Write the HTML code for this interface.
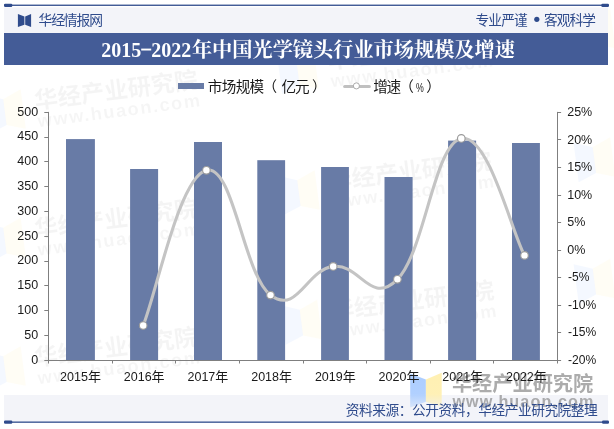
<!DOCTYPE html>
<html lang="zh"><head><meta charset="utf-8"><title>2015-2022年中国光学镜头行业市场规模及增速</title>
<style>
html,body{margin:0;padding:0;background:#fff;}
body{width:614px;height:429px;overflow:hidden;font-family:"Liberation Sans","Noto Sans CJK SC",sans-serif;}
svg{display:block;will-change:transform;}
svg text{font-family:"Liberation Sans","Noto Sans CJK SC",sans-serif;}
svg text.ser{font-family:"Liberation Serif","Noto Serif CJK SC",serif;font-weight:bold;}
</style></head><body>
<svg width="614" height="429" viewBox="0 0 614 429">
<rect width="614" height="429" fill="#ffffff"/>
<defs><g id="wmt" transform="scale(1.175)"><path fill="#a8cbff" fill-opacity="0.125" d="M-41.8 -17.6L-26.2 -11.7V10.4L-41.8 16.2Z"/><path fill="#ffefae" fill-opacity="0.125" d="M-26.2 -11.7L-10.4 -18.4V15.6L-26.2 10.4Z"/><text x="0" y="0" font-size="20" font-weight="bold" fill="#000" fill-opacity="0.045">华经产业研究院</text><text x="0.6" y="15.8" font-size="15.5" font-weight="bold" fill="#000" fill-opacity="0.03825" textLength="139" lengthAdjust="spacing">www.huaon.com</text></g></defs>
<g id="wm-faint">
<use href="#wmt" transform="translate(35.5 109) rotate(-7.4)"/>
<use href="#wmt" transform="translate(35.5 237.5) rotate(-7.4)"/>
<use href="#wmt" transform="translate(35.5 366) rotate(-7.4)"/>
<use href="#wmt" transform="translate(328.5 69) rotate(-7.4)"/>
<use href="#wmt" transform="translate(329.5 190) rotate(-7.4)"/>
<use href="#wmt" transform="translate(332 319.5) rotate(-7.4)"/>
<use href="#wmt" transform="translate(625 157) rotate(-7.4)"/>
<use href="#wmt" transform="translate(625 278.5) rotate(-7.4)"/>
<use href="#wmt" transform="translate(625 28.5) rotate(-7.4)"/>
</g>
<rect x="4" y="7.4" width="604" height="25.6" fill="#f3f4f9"/>
<rect x="4" y="4.6" width="604" height="1.3" fill="#2f4b8c"/>
<rect x="4" y="3.8" width="8.3" height="3.1" rx="1.2" fill="#2f4b8c"/>
<rect x="601.3" y="3.8" width="7.7" height="3.1" rx="1.2" fill="#2f4b8c"/>
<path fill="#2f4b8c" d="M17.9 14.1L24.4 16.4V24.7L17.9 27ZM31.1 14.1L25.2 16.4V24.7L31.1 27Z"/>
<text x="38.5" y="25.1" font-size="13.8" fill="#2f4b8c" textLength="64.5" lengthAdjust="spacing">华经情报网</text>
<text x="475.6" y="24.5" font-size="13.7" fill="#2f4b8c" textLength="52" lengthAdjust="spacing">专业严谨</text>
<circle cx="536.8" cy="19.3" r="2.6" fill="#2f4b8c"/>
<text x="543.9" y="24.5" font-size="13.7" fill="#2f4b8c" textLength="52" lengthAdjust="spacing">客观科学</text>
<rect x="4" y="33" width="604" height="32" fill="#445c97"/>
<text class="ser" x="101.2" y="57.3" font-size="20" fill="#fff">2015</text>
<rect x="141.2" y="48.6" width="10" height="1.9" fill="#fff"/>
<text class="ser" x="142.7" y="57.3" font-size="20" fill="none">-</text>
<text class="ser" x="151.2" y="57.3" font-size="20" fill="#fff">2022</text>
<text class="ser" x="191.9" y="57.3" font-size="20.2" fill="#fff">年中国光学镜头行业市场规模及增速</text>
<rect x="178" y="83" width="26" height="6" fill="#687ba6"/>
<text x="207.7" y="91.9" font-size="14.6" fill="#1a1a1a" textLength="56.5" lengthAdjust="spacing">市场规模</text>
<text x="262.5" y="91.9" font-size="14.6" fill="#1a1a1a">（</text>
<text x="281.5" y="91.9" font-size="14.6" fill="#1a1a1a" textLength="28" lengthAdjust="spacing">亿元</text>
<text x="311.9" y="91.9" font-size="14.6" fill="#1a1a1a">）</text>
<path d="M344.6 86.4H369.4" stroke="#c0c0c0" stroke-width="3" stroke-linecap="round" fill="none"/>
<circle cx="356.4" cy="85.9" r="3.05" fill="#fff" stroke="#a6a6a6" stroke-width="0.95"/>
<text x="373.2" y="91.9" font-size="14.6" fill="#1a1a1a" textLength="28" lengthAdjust="spacing">增速</text>
<text x="399.3" y="91.9" font-size="14.6" fill="#1a1a1a">（</text>
<text x="416" y="91.8" font-size="12.8" fill="#222" textLength="7.8" lengthAdjust="spacingAndGlyphs">%</text>
<text x="426.3" y="91.9" font-size="14.6" fill="#1a1a1a">）</text>
<rect x="4" y="395" width="604" height="26.5" fill="#f3f4f9"/>
<rect x="4" y="421.5" width="604" height="1.3" fill="#2f4b8c"/>
<rect x="4" y="420.6" width="8.3" height="3.2" rx="1.2" fill="#2f4b8c"/>
<rect x="602" y="420.6" width="7" height="3.2" rx="1.2" fill="#2f4b8c"/>
<defs><linearGradient id="lgb" x1="0" y1="373" x2="0" y2="408" gradientUnits="userSpaceOnUse"><stop offset="0" stop-color="#a8cbff" stop-opacity="0.95"/><stop offset="0.6" stop-color="#a8cbff" stop-opacity="0.9"/><stop offset="1" stop-color="#a8cbff" stop-opacity="0.35"/></linearGradient><linearGradient id="lgy" x1="0" y1="373" x2="0" y2="408" gradientUnits="userSpaceOnUse"><stop offset="0" stop-color="#ffefae" stop-opacity="0.95"/><stop offset="0.6" stop-color="#ffefae" stop-opacity="0.9"/><stop offset="1" stop-color="#ffefae" stop-opacity="0.3"/></linearGradient></defs>
<path fill="url(#lgb)" d="M410.2 373.6L425.9 379.6V401.7L410.2 407.6Z"/>
<path fill="url(#lgy)" d="M425.9 379.6L441.7 372.8V406.8L425.9 401.7Z"/>
<text x="451.9" y="391.3" font-size="20.2" font-weight="bold" fill="#7d7d7d" fill-opacity="0.64">华经产业研究院</text>
<text x="452.4" y="407.2" font-size="16.2" font-weight="bold" fill="#7d7d7d" fill-opacity="0.62" textLength="141" lengthAdjust="spacing">www.huaon.com</text>
<rect x="66" y="139.1" width="28.9" height="221.2" fill="#687ba6"/>
<rect x="130.1" y="169" width="28" height="191.3" fill="#687ba6"/>
<rect x="194" y="142" width="28" height="218.3" fill="#687ba6"/>
<rect x="257.3" y="160.2" width="27.8" height="200.1" fill="#687ba6"/>
<rect x="321.1" y="167" width="27.8" height="193.3" fill="#687ba6"/>
<rect x="384.5" y="177" width="28.1" height="183.3" fill="#687ba6"/>
<rect x="448.1" y="140.6" width="28" height="219.7" fill="#687ba6"/>
<rect x="512" y="143" width="27.9" height="217.3" fill="#687ba6"/>
<g stroke="#7f7f7f" stroke-width="1" fill="none" shape-rendering="auto">
<path d="M48.5 111.9V363.5"/>
<path d="M557.5 111.9V363.5"/>
<path d="M44.3 360.5H561.1"/>
<path d="M44.3 335.5H48.5M44.3 310.5H48.5M44.3 285.5H48.5M44.3 261.5H48.5M44.3 236.5H48.5M44.3 211.5H48.5M44.3 186.5H48.5M44.3 161.5H48.5M44.3 137.5H48.5M44.3 112.5H48.5M557.5 112.5H561.1M557.5 139.5H561.1M557.5 167.5H561.1M557.5 195.5H561.1M557.5 222.5H561.1M557.5 250.5H561.1M557.5 277.5H561.1M557.5 305.5H561.1M557.5 332.5H561.1M112.5 360.3V363.5M175.5 360.3V363.5M239.5 360.3V363.5M303.5 360.3V363.5M366.5 360.3V363.5M430.5 360.3V363.5M493.5 360.3V363.5"/>
</g>
<g font-size="12.5" fill="#1a1a1a">
<text x="38.1" y="363.5" text-anchor="end">0</text>
<text x="38.1" y="338.7" text-anchor="end">50</text>
<text x="38.1" y="313.9" text-anchor="end">100</text>
<text x="38.1" y="289.1" text-anchor="end">150</text>
<text x="38.1" y="264.3" text-anchor="end">200</text>
<text x="38.1" y="239.6" text-anchor="end">250</text>
<text x="38.1" y="214.8" text-anchor="end">300</text>
<text x="38.1" y="190" text-anchor="end">350</text>
<text x="38.1" y="165.2" text-anchor="end">400</text>
<text x="38.1" y="140.4" text-anchor="end">450</text>
<text x="38.1" y="115.6" text-anchor="end">500</text>
<text x="567.2" y="116">25%</text>
<text x="567.2" y="143.5">20%</text>
<text x="567.2" y="171.1">15%</text>
<text x="567.2" y="198.6">10%</text>
<text x="567.2" y="226.2">5%</text>
<text x="567.2" y="253.7">0%</text>
<text x="568" y="281.3" textLength="21.4" lengthAdjust="spacingAndGlyphs">-5%</text>
<text x="568" y="308.8" textLength="28.2" lengthAdjust="spacingAndGlyphs">-10%</text>
<text x="568" y="336.4" textLength="28.2" lengthAdjust="spacingAndGlyphs">-15%</text>
<text x="568" y="363.9" textLength="28.2" lengthAdjust="spacingAndGlyphs">-20%</text>
</g>
<text x="60.1" y="380.9" font-size="12.5" fill="#1a1a1a">2015</text>
<text x="87.9" y="381.2" font-size="13" fill="#1a1a1a">年</text>
<text x="123.8" y="380.9" font-size="12.5" fill="#1a1a1a">2016</text>
<text x="151.6" y="381.2" font-size="13" fill="#1a1a1a">年</text>
<text x="187.5" y="380.9" font-size="12.5" fill="#1a1a1a">2017</text>
<text x="215.3" y="381.2" font-size="13" fill="#1a1a1a">年</text>
<text x="251.2" y="380.9" font-size="12.5" fill="#1a1a1a">2018</text>
<text x="279" y="381.2" font-size="13" fill="#1a1a1a">年</text>
<text x="314.9" y="380.9" font-size="12.5" fill="#1a1a1a">2019</text>
<text x="342.7" y="381.2" font-size="13" fill="#1a1a1a">年</text>
<text x="378.6" y="380.9" font-size="12.5" fill="#1a1a1a">2020</text>
<text x="406.4" y="381.2" font-size="13" fill="#1a1a1a">年</text>
<text x="442.3" y="380.9" font-size="12.5" fill="#1a1a1a">2021</text>
<text x="470.1" y="381.2" font-size="13" fill="#1a1a1a">年</text>
<text x="506" y="380.9" font-size="12.5" fill="#1a1a1a">2022</text>
<text x="533.8" y="381.2" font-size="13" fill="#1a1a1a">年</text>
<path d="M143.2 325.5C156.6 292.5 179.3 176.8 206.4 170.3C233.5 163.8 243.5 274.7 270.5 295.1C297.5 315.5 306.2 269.8 333.2 266.4C360.2 263 370.1 306.5 397.4 279.3C424.7 252.1 434.3 143.5 461.3 138.4C488.3 133.3 511.1 230.5 524.5 255.4" fill="none" stroke="#c4c4c4" stroke-width="3.1" stroke-linecap="round" stroke-linejoin="round"/>
<circle cx="143.2" cy="325.5" r="3.8" fill="#fff" stroke="#9a9a9a" stroke-width="1.15"/>
<circle cx="206.4" cy="170.3" r="3.8" fill="#fff" stroke="#9a9a9a" stroke-width="1.15"/>
<circle cx="270.5" cy="295.1" r="3.8" fill="#fff" stroke="#9a9a9a" stroke-width="1.15"/>
<circle cx="333.2" cy="266.4" r="3.8" fill="#fff" stroke="#9a9a9a" stroke-width="1.15"/>
<circle cx="397.4" cy="279.3" r="3.8" fill="#fff" stroke="#9a9a9a" stroke-width="1.15"/>
<circle cx="461.3" cy="138.4" r="3.8" fill="#fff" stroke="#9a9a9a" stroke-width="1.15"/>
<circle cx="524.5" cy="255.4" r="3.8" fill="#fff" stroke="#9a9a9a" stroke-width="1.15"/>
<text x="345.8" y="414.9" font-size="13.7" fill="#2f4b8c" textLength="252" lengthAdjust="spacing">资料来源：公开资料，华经产业研究院整理</text>
</svg></body></html>
